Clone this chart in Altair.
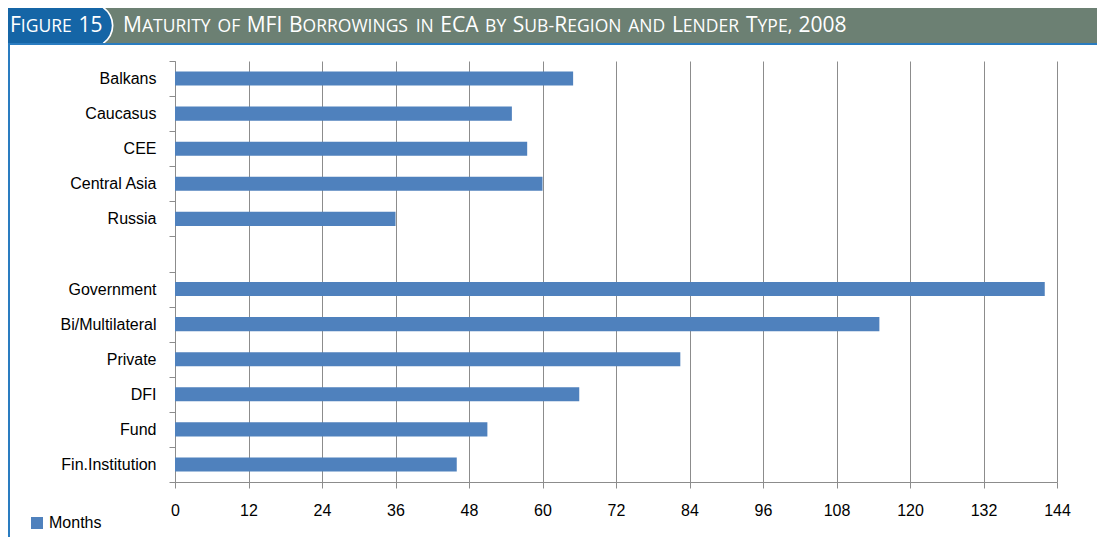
import altair as alt
import pandas as pd

# ---------------- data ----------------
categories = ["Balkans", "Caucasus", "CEE", "Central Asia", "Russia", " ",
              "Government", "Bi/Multilateral", "Private", "DFI", "Fund", "Fin.Institution"]
bar_categories = ["Balkans", "Caucasus", "CEE", "Central Asia", "Russia",
                  "Government", "Bi/Multilateral", "Private", "DFI", "Fund", "Fin.Institution"]
months = [65, 55, 57.5, 60, 36, 142, 115, 82.5, 66, 51, 46]
series_name = "Months"
x_ticks = [0, 12, 24, 36, 48, 60, 72, 84, 96, 108, 120, 132, 144]

# title words: list of (text, is_big) parts (small caps emulation)
label_words = [
    [("F", True), ("IGURE", False)],
    [("15", True)],
]
title_words = [
    [("M", True), ("ATURITY", False)],
    [("OF", False)],
    [("MFI", True)],
    [("B", True), ("ORROWINGS", False)],
    [("IN", False)],
    [("ECA", True)],
    [("BY", False)],
    [("S", True), ("UB-", False), ("R", True), ("EGION", False)],
    [("AND", False)],
    [("L", True), ("ENDER", False)],
    [("T", True), ("YPE,", False)],
    [("2008", True)],
]

df = pd.DataFrame({"category": bar_categories, "months": months,
                   "series": [series_name] * len(months)})

# ---------------- layout ----------------
W, H = 882, 421
PL, PT, PR, PB = 167, 53, 40, 55
OX, OY = 8 + PL, 8 + PT  # page coords of plot origin
FONT = "Liberation Sans"
TFONT = "Open Sans"
BIG, SMALL = 21, 17.5
SPACE = 6.5
GRAY = "#8c8c8c"
BAR = "#4f81bd"

adv = {"A": .633, "B": .648, "C": .631, "D": .729, "E": .556, "F": .516, "G": .728,
       "I": .279, "L": .519, "M": .907, "N": .763, "O": .781, "P": .604, "R": .628,
       "S": .559, "T": .557, "U": .734, "W": .942, "Y": .554, "-": .322, ",": .249,
       "0": .572, "1": .572, "2": .572, "5": .572, "8": .572}


def text_width(s, size):
    return sum(adv.get(c, .6) for c in s) * size


one = pd.DataFrame({"k": [0]})


def rect(x, x2, y, y2, color):
    return alt.Chart(one).mark_rect(color=color).encode(
        x=alt.value(x), x2=alt.value(x2), y=alt.value(y), y2=alt.value(y2))


bars = alt.Chart(df).mark_bar(height=alt.RelativeBandSize(0.4)).encode(
    y=alt.Y("category:N", sort=categories,
            scale=alt.Scale(domain=categories, paddingInner=0, paddingOuter=0),
            axis=alt.Axis(title=None, tickBand="extent", tickSize=6, labelPadding=13,
                          labelFontSize=16, labelFont=FONT, labelColor="#000000",
                          domainColor=GRAY, tickColor=GRAY, grid=False)),
    x=alt.X("months:Q", scale=alt.Scale(domain=[0, 144], nice=False),
            axis=alt.Axis(title=None, values=x_ticks, tickSize=6, labelPadding=14,
                          labelFontSize=16, labelFont=FONT, labelColor="#000000",
                          labelFlush=False, domainColor=GRAY, tickColor=GRAY,
                          grid=True, gridColor=GRAY, gridWidth=1)),
    color=alt.Color("series:N", scale=alt.Scale(domain=[series_name], range=[BAR]),
                    legend=alt.Legend(title=None, orient="none", legendX=29 - OX,
                                      legendY=515 - OY, symbolType="square",
                                      symbolSize=144, symbolStrokeWidth=0,
                                      labelFontSize=16, labelFont=FONT,
                                      labelColor="#000000", labelOffset=4, padding=0)),
)

layers = [bars]

# title bar
layers.append(rect(8 - OX, 1103 - OX, 8 - OY, 43 - OY, "#6c8073"))
layers.append(rect(8 - OX, 104 - OX, 8 - OY, 43 - OY, "#1565a6"))
layers.append(alt.Chart(one).mark_arc(color="#1565a6", theta=0.6, theta2=2.54, radius=22).encode(
    x=alt.value(91 - OX), y=alt.value(25.5 - OY)))
layers.append(alt.Chart(one).mark_arc(color="#ffffff", theta=0.6, theta2=2.54,
                                      radius=22.5, radius2=20.8).encode(
    x=alt.value(91 - OX), y=alt.value(25.5 - OY)))
layers.append(rect(8 - OX, 1103 - OX, 43 - OY, 45 - OY, "#2a7cc0"))
layers.append(rect(8 - OX, 10 - OX, 45 - OY, 8 + PT + H + PB - OY, "#2a7cc0"))


def add_words(words, x_start):
    x = x_start
    for parts in words:
        for txt, big in parts:
            size = BIG if big else SMALL
            layers.append(alt.Chart(one).mark_text(
                text=txt, align="left", baseline="alphabetic", font=TFONT,
                fontSize=size, color="#ffffff").encode(
                x=alt.value(x - OX), y=alt.value(32 - OY)))
            x += text_width(txt, size)
        x += SPACE


add_words(label_words, 10)
add_words(title_words, 123)

chart = alt.layer(*layers).properties(
    width=W, height=H,
    autosize=alt.AutoSizeParams(type="none"),
    padding={"left": PL, "top": PT, "right": PR, "bottom": PB},
    background="#ffffff",
).configure_view(stroke=None)

chart.save("out.html", embed_options={"renderer": "svg", "actions": False})
